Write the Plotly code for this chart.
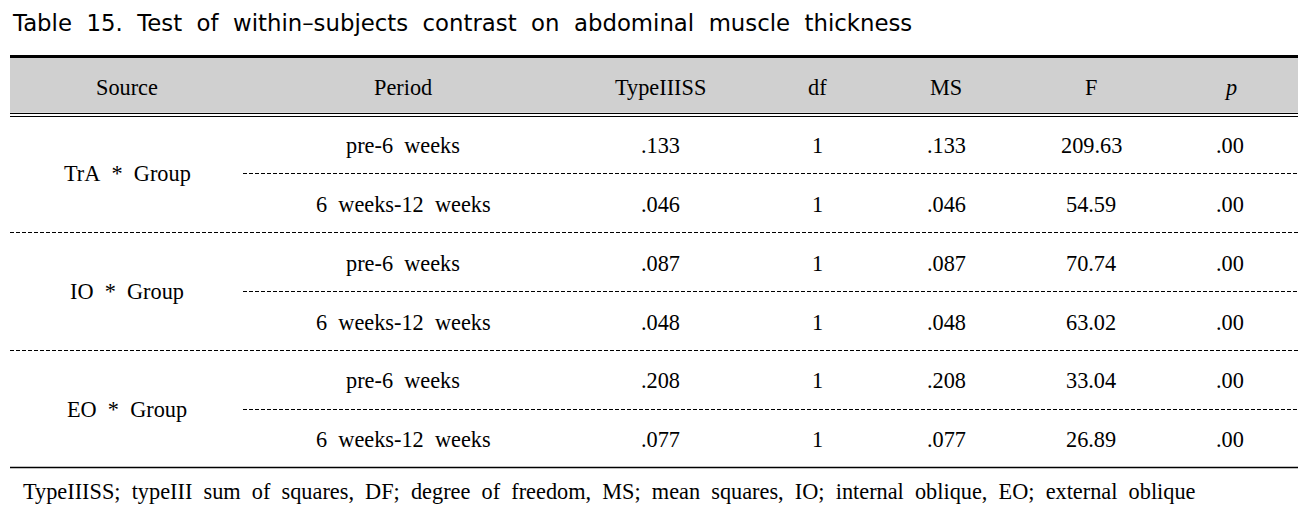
import plotly.graph_objects as go

W, H = 1307, 514

title = "Table  15.  Test  of  within\u2013subjects  contrast  on  abdominal  muscle  thickness"
headers = ["Source", "Period", "TypeIIISS", "df", "MS", "F", "<i>p</i>"]
sources = ["TrA  *  Group", "IO  *  Group", "EO  *  Group"]
periods = ["pre-6  weeks", "6  weeks-12  weeks"] * 3
type3ss = [".133", ".046", ".087", ".048", ".208", ".077"]
dfs = ["1", "1", "1", "1", "1", "1"]
ms = [".133", ".046", ".087", ".048", ".208", ".077"]
fvals = ["209.63", "54.59", "70.74", "63.02", "33.04", "26.89"]
pvals = [".00", ".00", ".00", ".00", ".00", ".00"]
footnote = ("TypeIIISS;  typeIII  sum  of  squares,  DF;  degree  of  freedom,  MS;  mean  squares,  "
            "IO;  internal  oblique,  EO;  external  oblique")

col_x = [127, 403, 660, 817, 946, 1091, 1230]
row_y = [145, 204, 263, 322, 380, 439]
header_y = 87
left, right = 10, 1298

def nb(s):
    return s.replace("  ", "\u00a0 ")

serif = "Liberation Serif"
fs = 22.3
fig = go.Figure()
fig.add_trace(go.Scatter(x=[0, W], y=[0, H], mode="markers", marker=dict(opacity=0), hoverinfo="skip"))

shapes = []
shapes.append(dict(type="rect", x0=left, x1=right, y0=57, y1=112.7, fillcolor="#d0d0d0", line=dict(width=0), layer="below"))
shapes.append(dict(type="line", x0=left, x1=right, y0=56.5, y1=56.5, line=dict(color="black", width=3)))
shapes.append(dict(type="line", x0=left, x1=right, y0=113.5, y1=113.5, line=dict(color="black", width=1.2)))
shapes.append(dict(type="line", x0=left, x1=right, y0=116.5, y1=116.5, line=dict(color="black", width=1.2)))
within_y = [173.5, 291.5, 409.5]
between_y = [232.5, 350.5]
for y in within_y:
    shapes.append(dict(type="line", x0=243, x1=right, y0=y, y1=y, line=dict(color="black", width=1, dash="4px,2px")))
for y in between_y:
    shapes.append(dict(type="line", x0=left, x1=right, y0=y, y1=y, line=dict(color="black", width=1, dash="4px,2px")))
shapes.append(dict(type="line", x0=left, x1=right, y0=467.5, y1=467.5, line=dict(color="black", width=1.3)))

ann = []
ann.append(dict(x=10, y=23, text=nb(title), xanchor="left", yanchor="middle", showarrow=False,
                font=dict(family="DejaVu Sans", size=22.8, color="black")))
for i, h in enumerate(headers):
    ann.append(dict(x=col_x[i], y=header_y, text=h, showarrow=False, xanchor="center", yanchor="middle",
                    font=dict(family=serif, size=fs, color="black")))
for g, s in enumerate(sources):
    ann.append(dict(x=col_x[0], y=within_y[g], text=nb(s), showarrow=False, xanchor="center", yanchor="middle",
                    font=dict(family=serif, size=fs, color="black")))
for r in range(6):
    vals = [periods[r], type3ss[r], dfs[r], ms[r], fvals[r], pvals[r]]
    for c, v in enumerate(vals):
        ann.append(dict(x=col_x[c + 1], y=row_y[r], text=nb(v), showarrow=False, xanchor="center", yanchor="middle",
                        font=dict(family=serif, size=fs, color="black")))
ann.append(dict(x=21, y=491, text=nb(footnote), showarrow=False, xanchor="left", yanchor="middle",
                font=dict(family=serif, size=fs, color="black")))

fig.update_layout(
    width=W, height=H, margin=dict(l=0, r=0, t=0, b=0),
    paper_bgcolor="white", plot_bgcolor="white", showlegend=False,
    xaxis=dict(range=[0, W], visible=False, fixedrange=True),
    yaxis=dict(range=[H, 0], visible=False, fixedrange=True),
    shapes=shapes, annotations=ann,
)
fig.write_html("out.html", config={"displayModeBar": False},
               post_script="document.body.style.margin='0';document.body.style.overflow='hidden';")
